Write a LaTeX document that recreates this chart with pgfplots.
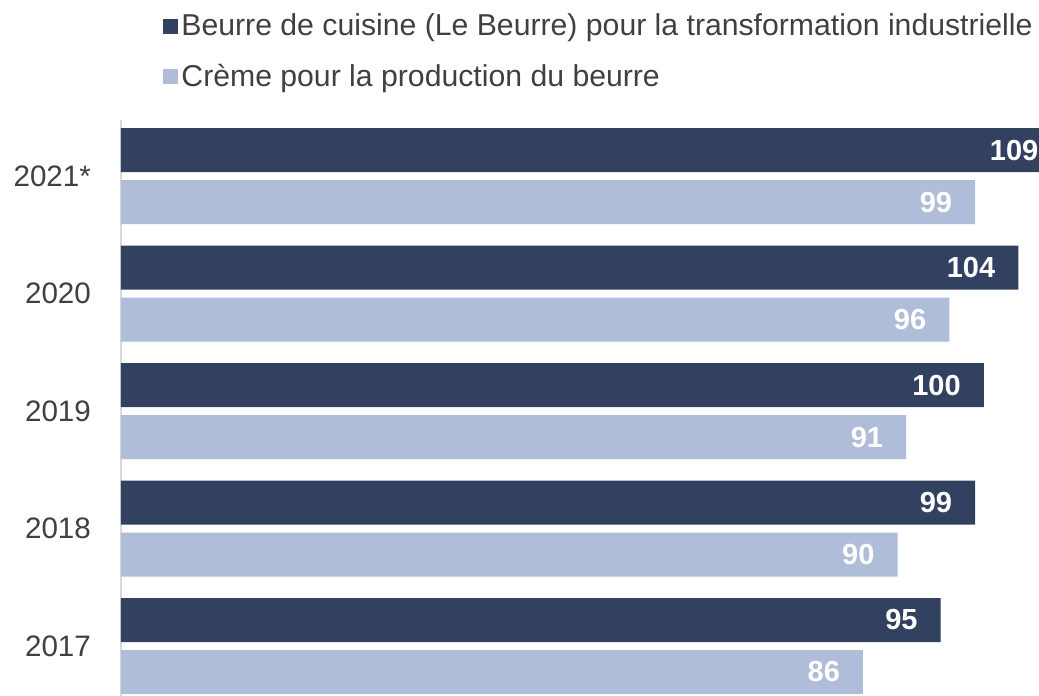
\documentclass[border=0pt]{standalone}
\usepackage{fontspec}
\setmainfont{Liberation Sans}
\usepackage{pgfplots}
\pgfplotsset{compat=1.18}
\definecolor{darkbar}{HTML}{324160}
\definecolor{lightbar}{HTML}{AFBDD8}
\definecolor{txt}{HTML}{404040}
\definecolor{axisgray}{HTML}{D9D9D9}

\begin{document}
\begin{tikzpicture}
\begin{axis}[
    at={(60.5pt,0pt)}, anchor=south west,
    scale only axis, width=459pt, height=288pt,
    xbar, bar width=22pt,
    xmin=0, xmax=106.4,
    ymin=-0.4255, ymax=4.477,
    clip=false,
    axis y line*=left,
    y axis line style={-, axisgray, line width=1.2pt},
    x axis line style={draw=none},
    xtick=\empty,
    ytick={0,1,2,3,4},
    yticklabels={2017,2018,2019,2020,2021*},
    major tick length=0pt,
    yticklabel style={text=txt, font=\fontsize{14.8}{17}\selectfont, xshift=-11.5pt},
    /pgf/number format/assume math mode=true,
    point meta=x,
    nodes near coords,
    nodes near coords style={anchor=east, text=white, xshift=-8pt,
        font=\bfseries\fontsize{14.5}{17}\selectfont},
    legend image code/.code={\fill[#1] (0pt,-3.75pt) rectangle (7.5pt,3.75pt);},
    legend style={at={(axis description cs:0.0458,1.19)}, anchor=north west,
        draw=none, fill=none, text=txt, font=\fontsize{15.1}{17}\selectfont,
        inner sep=0pt, row sep=9.5pt,
        nodes={inner sep=1.5pt}},
    legend cell align=left,
]
\addplot[fill=darkbar, draw=none, bar shift=13pt]
    coordinates {(95,0) (99,1) (100,2) (104,3) (109,4)};
\addplot[fill=lightbar, draw=none, bar shift=-13pt]
    coordinates {(86,0) (90,1) (91,2) (96,3) (99,4)};
\legend{Beurre de cuisine (Le Beurre) pour la transformation industrielle,
        Crème pour la production du beurre}
\end{axis}
\pgfresetboundingbox
\path[use as bounding box] (0,0) rectangle (519.5pt,348pt);
\end{tikzpicture}
\end{document}
